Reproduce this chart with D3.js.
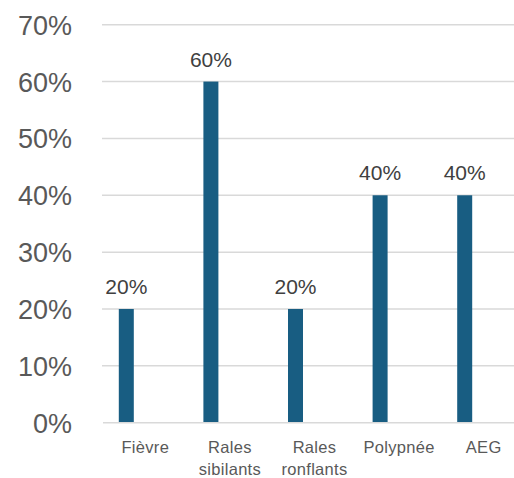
<!DOCTYPE html>
<html>
<head>
<meta charset="utf-8">
<script src="https://cdn.jsdelivr.net/npm/d3@7"></script>
<style>
  html, body { margin: 0; padding: 0; background: #fff; }
  svg { display: block; font-family: "Liberation Sans", Arial, sans-serif; }
</style>
</head>
<body>
<svg id="chart" width="514" height="478"></svg>
<script>
// Chart data
const categories = ["Fièvre", "Rales sibilants", "Rales ronflants", "Polypnée", "AEG"];
const values = [0.20, 0.60, 0.20, 0.40, 0.40];
const tickValues = [0, 0.1, 0.2, 0.3, 0.4, 0.5, 0.6, 0.7];

const svg = d3.select("#chart");
const plot = { left: 103, right: 526, top: 24.7, bottom: 422.7 };

const x = d3.scaleBand().domain(categories).range([plot.left, plot.right]).padding(0);
const y = d3.scaleLinear().domain([0, 0.7]).range([plot.bottom, plot.top]);
const fmt = d3.format(".0%");

const barWidth = 15;
const barShift = -19; // bars sit left of the category centre

// Horizontal gridlines
svg.append("g")
  .selectAll("line")
  .data(tickValues.filter(d => d > 0))
  .join("line")
  .attr("x1", plot.left - 1)
  .attr("x2", plot.right)
  .attr("y1", d => y(d))
  .attr("y2", d => y(d))
  .attr("stroke", "#d9d9d9")
  .attr("stroke-width", 1.5);

// Y-axis tick labels
const yAxis = d3.axisLeft(y).tickValues(tickValues).tickFormat(fmt).tickSize(0).tickPadding(0);
const gy = svg.append("g").attr("transform", "translate(72,0)").call(yAxis);
gy.select(".domain").remove();
gy.selectAll("text")
  .attr("font-size", 27)
  .attr("fill", "#595959")
  .attr("font-family", "'Liberation Sans', Arial, sans-serif")
  .attr("dy", "0.35em");

// Bars
svg.append("g")
  .selectAll("rect")
  .data(categories)
  .join("rect")
  .attr("x", (d) => x(d) + x.bandwidth() / 2 + barShift - barWidth / 2)
  .attr("width", barWidth)
  .attr("y", (d, i) => y(values[i]))
  .attr("height", (d, i) => y(0) - y(values[i]))
  .attr("fill", "#185d82");

// Category axis line
svg.append("line")
  .attr("x1", plot.left)
  .attr("x2", plot.right)
  .attr("y1", y(0))
  .attr("y2", y(0))
  .attr("stroke", "#d9d9d9")
  .attr("stroke-width", 1.5);

// Value labels above bars
svg.append("g")
  .selectAll("text")
  .data(categories)
  .join("text")
  .attr("x", (d) => x(d) + x.bandwidth() / 2 + barShift)
  .attr("y", (d, i) => y(values[i]) - 15)
  .attr("text-anchor", "middle")
  .attr("font-size", 21)
  .attr("fill", "#404040")
  .text((d, i) => fmt(values[i]));

// Category labels, wrapped to fit the band
const labelSize = 16.5;
const gx = svg.append("g");
categories.forEach(c => {
  const words = c.split(" ");
  const t = gx.append("text")
    .attr("text-anchor", "middle")
    .attr("font-size", labelSize)
    .attr("fill", "#595959")
    .attr("letter-spacing", "0.3px");
  const cx = x(c) + x.bandwidth() / 2;
  let lines = [];
  let line = [];
  words.forEach(w => {
    const trial = line.concat(w).join(" ");
    const probe = t.append("tspan").text(trial);
    const width = probe.node().getComputedTextLength();
    probe.remove();
    if (width > 80 && line.length) { lines.push(line.join(" ")); line = [w]; }
    else line.push(w);
  });
  lines.push(line.join(" "));
  lines.forEach((l, i) => {
    t.append("tspan").attr("x", cx).attr("y", 453 + i * 22).text(l);
  });
});
</script>
</body>
</html>
